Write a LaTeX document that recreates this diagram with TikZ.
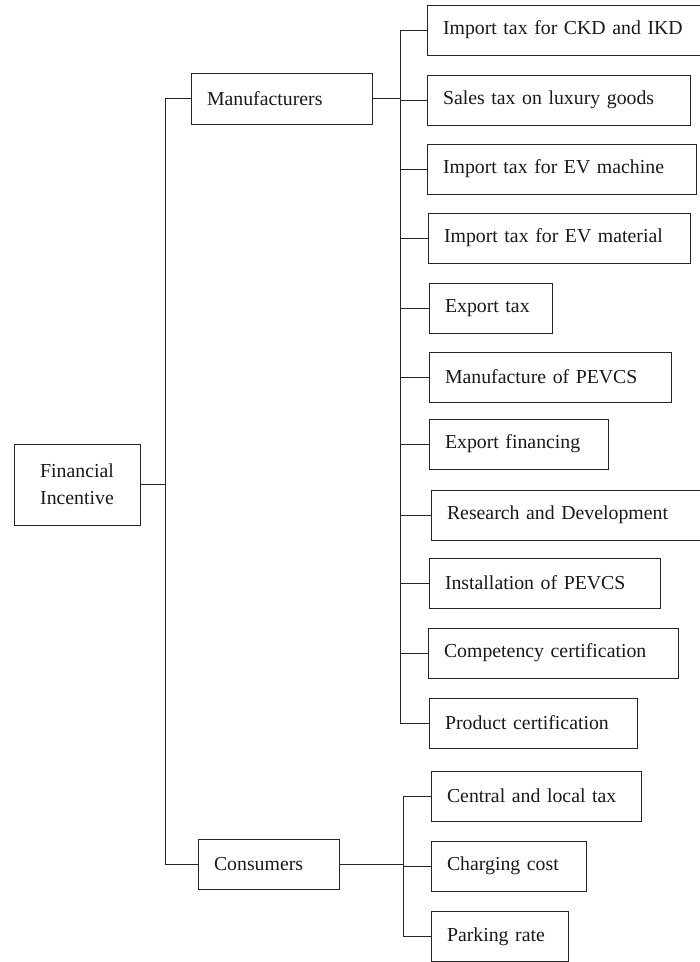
\documentclass[tikz,border=0pt]{standalone}
\usepackage{fontspec}
\setmainfont{Liberation Serif}
\begin{document}
\begin{tikzpicture}[x=1pt,y=-1pt,
  box/.style={draw=black!85, line width=1pt, anchor=west, inner xsep=16pt, inner ysep=0pt,
    outer sep=0pt, minimum height=50pt, align=left, font=\fontsize{19.8pt}{27pt}\selectfont, text=black!90},
  link/.style={draw=black!85, line width=1pt}]
\useasboundingbox (0,0) rectangle (700,962);
\clip (0,0) rectangle (700,962);
% root and second level
\node[box, align=center, text width=94pt, minimum height=81pt] (fi) at (14,484.5) {Financial\\Incentive};
\node[box, text width=149pt, minimum height=51pt] (man) at (191,98.5) {Manufacturers};
\node[box, text width=109pt] (con) at (198,864) {Consumers};
% manufacturers' children
\node[box, text width=263pt] (c1) at (427,30) {Import tax for CKD and IKD};
\node[box, text width=231pt] (c2) at (427,100) {Sales tax on luxury goods};
\node[box, text width=237pt] (c3) at (427,169) {Import tax for EV machine};
\node[box, text width=230pt] (c4) at (428,238) {Import tax for EV material};
\node[box, text width=91pt] (c5) at (429,308) {Export tax};
\node[box, text width=210pt] (c6) at (429,377) {Manufacture of PEVCS};
\node[box, text width=147pt] (c7) at (429,444) {Export financing};
\node[box, text width=279pt] (c8) at (431,515) {Research and Development};
\node[box, text width=199pt] (c9) at (429,583) {Installation of PEVCS};
\node[box, text width=218pt] (c10) at (428,653) {Competency certification};
\node[box, text width=176pt] (c11) at (429,723) {Product certification};
% consumers' children
\node[box, text width=178pt] (k1) at (431,796) {Central and local tax};
\node[box, text width=123pt] (k2) at (431,866) {Charging cost};
\node[box, text width=105pt] (k3) at (431,936.5) {Parking rate};
% main trunk
\coordinate (mt) at (165,0);
\draw[link] (man.west) -- (man.west -| mt) -- (con.west -| mt) -- (con.west);
\draw[link] (fi.east) -- (fi.east -| mt);
% manufacturers trunk
\coordinate (t1) at (400,0);
\draw[link] (man.east) -- (man.east -| t1);
\draw[link] (c1.west) -- (c1.west -| t1) -- (c11.west -| t1) -- (c11.west);
\foreach \n in {c2,c3,c4,c5,c6,c7,c8,c9,c10}
  \draw[link] (\n.west) -- (\n.west -| t1);
% consumers trunk
\coordinate (t2) at (403,0);
\draw[link] (con.east) -- (con.east -| t2);
\draw[link] (k1.west) -- (k1.west -| t2) -- (k3.west -| t2) -- (k3.west);
\draw[link] (k2.west) -- (k2.west -| t2);
\end{tikzpicture}
\end{document}
